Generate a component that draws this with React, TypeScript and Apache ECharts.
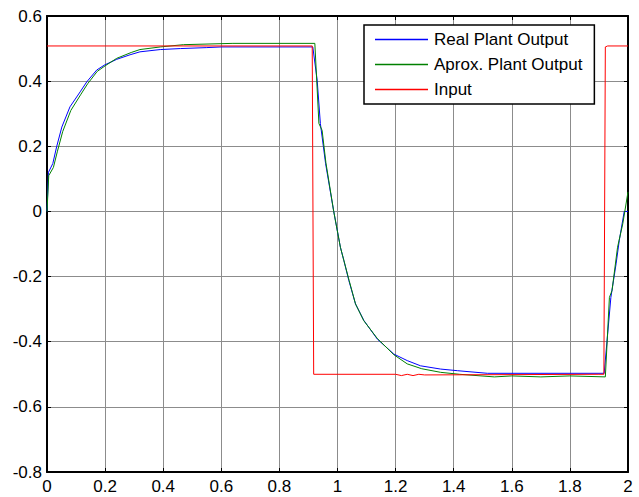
import React, { useEffect, useRef } from "react";
import * as echarts from "echarts";

const xTicks = { min: 0, max: 2, interval: 0.2 };
const yTicks = { min: -0.8, max: 0.6, interval: 0.2 };

const seriesNames = ["Real Plant Output", "Aprox. Plant Output", "Input"];
const seriesColors = ["#0000ff", "#008000", "#ff0000"];

const realT = [0, 0.005, 0.02, 0.033, 0.051, 0.079, 0.114, 0.137, 0.171, 0.197, 0.24, 0.286, 0.32, 0.39, 0.459, 0.55, 0.6, 0.915, 0.93, 0.941, 0.959, 0.987, 1.01, 1.022, 1.039, 1.062, 1.091, 1.137, 1.194, 1.24, 1.286, 1.355, 1.413, 1.516, 1.918, 1.941, 1.959, 1.97, 1.987, 2.0];
const realV = [0, 0.12, 0.147, 0.198, 0.259, 0.321, 0.367, 0.398, 0.434, 0.449, 0.467, 0.481, 0.49, 0.497, 0.5, 0.503, 0.505, 0.505, 0.403, 0.27, 0.147, 0.0, -0.11, -0.151, -0.212, -0.284, -0.335, -0.392, -0.438, -0.458, -0.474, -0.484, -0.489, -0.497, -0.497, -0.264, -0.161, -0.089, 0.0, 0.0];

const aproxT = [0, 0.006, 0.022, 0.036, 0.054, 0.082, 0.117, 0.14, 0.173, 0.2, 0.24, 0.29, 0.32, 0.39, 0.47, 0.64, 0.922, 0.936, 0.947, 0.96, 0.987, 1.01, 1.04, 1.062, 1.09, 1.137, 1.194, 1.24, 1.29, 1.355, 1.42, 1.54, 1.6, 1.7, 1.8, 1.922, 1.936, 1.945, 1.964, 1.982, 2.0];
const aproxV = [0, 0.11, 0.135, 0.185, 0.245, 0.31, 0.36, 0.392, 0.43, 0.447, 0.47, 0.488, 0.497, 0.505, 0.512, 0.516, 0.516, 0.27, 0.249, 0.15, 0.0, -0.11, -0.212, -0.284, -0.335, -0.39, -0.44, -0.468, -0.483, -0.494, -0.5, -0.508, -0.505, -0.508, -0.505, -0.508, -0.264, -0.243, -0.11, -0.038, 0.06];

const inputT = [0, 0.913, 0.918, 1.2, 1.22, 1.24, 1.26, 1.28, 1.3, 1.9, 1.917, 1.922, 1.93, 2.0];
const inputV = [0.508, 0.508, -0.5, -0.5, -0.504, -0.5, -0.504, -0.5, -0.502, -0.5, -0.5, 0.505, 0.508, 0.508];

const fmt = (v: number) => String(Number(v.toFixed(1)));

export default function App() {
  const ref = useRef<HTMLDivElement>(null);
  useEffect(() => {
    if (!ref.current) return;
    const chart = echarts.init(ref.current, undefined, { renderer: "svg" });
    const pairs = (t: number[], v: number[]) => t.map((x, i) => [x, v[i]]);
    const datasets = [pairs(realT, realV), pairs(aproxT, aproxV), pairs(inputT, inputV)];
    const font = { fontFamily: "Arial, 'Liberation Sans', sans-serif", fontSize: 17, color: "#000" };
    const axisLine = { show: true, onZero: false, lineStyle: { color: "#000", width: 2 } };
    const tick = { show: true, inside: true, length: 4, lineStyle: { color: "#000", width: 1 } };
    chart.setOption({
      animation: false,
      backgroundColor: "#fff",
      color: seriesColors,
      grid: { left: 47, right: 11, top: 16, bottom: 25 },
      legend: {
        orient: "vertical",
        left: 364,
        top: 25,
        padding: [6, 12, 6, 11],
        itemWidth: 53,
        itemHeight: 1.5,
        itemGap: 8,
        backgroundColor: "#fff",
        borderColor: "#000",
        borderWidth: 1.5,
        borderRadius: 0,
        textStyle: { ...font, padding: [0, 0, 0, 1], lineHeight: 17 },
        data: seriesNames.map((n, i) => ({
          name: n,
          icon: "rect",
          itemStyle: { color: seriesColors[i], borderWidth: 0, opacity: 1 },
        })),
      },
      xAxis: [
        {
          type: "value",
          ...xTicks,
          axisLine,
          axisTick: tick,
          axisLabel: { ...font, margin: 6, formatter: fmt, showMinLabel: true, showMaxLabel: true },
          splitLine: { show: true, lineStyle: { color: "#8c8c8c", width: 1 } },
        },
        {
          type: "value",
          position: "top",
          ...xTicks,
          axisLine,
          axisTick: tick,
          axisLabel: { show: false },
          splitLine: { show: false },
        },
      ],
      yAxis: [
        {
          type: "value",
          ...yTicks,
          axisLine,
          axisTick: tick,
          axisLabel: { ...font, margin: 5, formatter: fmt, showMinLabel: true, showMaxLabel: true },
          splitLine: { show: true, lineStyle: { color: "#8c8c8c", width: 1 } },
        },
        {
          type: "value",
          position: "right",
          ...yTicks,
          axisLine,
          axisTick: tick,
          axisLabel: { show: false },
          splitLine: { show: false },
        },
      ],
      series: datasets.map((d, i) => ({
        name: seriesNames[i],
        type: "line",
        data: d,
        symbol: "none",
        itemStyle: { color: seriesColors[i] },
        lineStyle: { color: seriesColors[i], width: 1 },
        xAxisIndex: 0,
        yAxisIndex: 0,
      })),
    });
    return () => chart.dispose();
  }, []);
  return (
    <div
      ref={ref}
      style={{ position: "fixed", left: 0, top: 0, width: 639, height: 497 }}
    />
  );
}
